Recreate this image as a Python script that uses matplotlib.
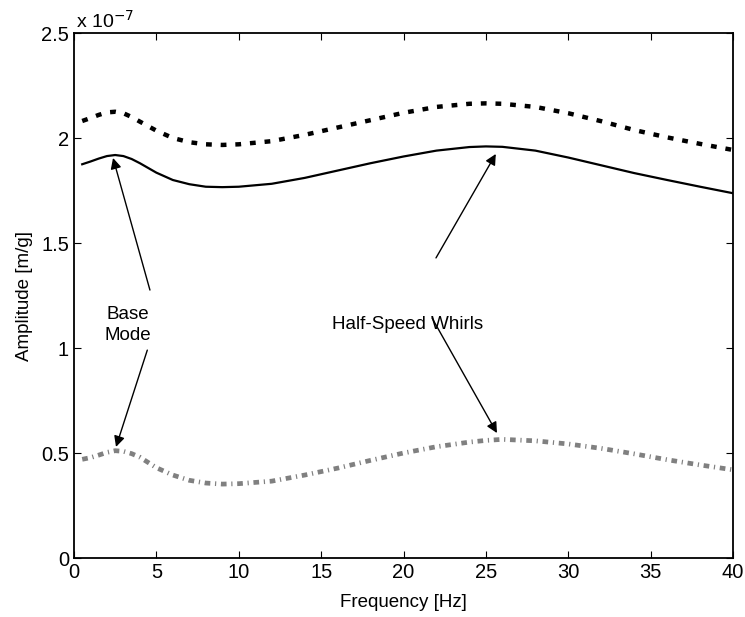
import matplotlib.pyplot as plt
from matplotlib.ticker import FormatStrFormatter

plt.rcParams['font.family'] = ['Liberation Sans', 'DejaVu Sans']

# Frequency response, amplitudes in units of 1e-7 m/g
freq = [0.5, 1, 1.5, 2, 2.5, 3, 3.5, 4, 5, 6, 7, 8, 9, 10, 12, 14, 16, 18,
        20, 22, 24, 25, 26, 28, 30, 32, 34, 36, 38, 40]

amp_solid = [1.875, 1.888, 1.902, 1.914, 1.919, 1.914, 1.900, 1.880, 1.835,
             1.800, 1.780, 1.768, 1.766, 1.768, 1.782, 1.810, 1.845, 1.880,
             1.912, 1.940, 1.957, 1.960, 1.958, 1.940, 1.907, 1.870, 1.833,
             1.800, 1.768, 1.737]

amp_dashed = [2.081, 2.095, 2.110, 2.122, 2.125, 2.118, 2.100, 2.078, 2.035,
              2.000, 1.980, 1.970, 1.967, 1.970, 1.985, 2.015, 2.050, 2.085,
              2.120, 2.148, 2.163, 2.165, 2.163, 2.148, 2.118, 2.080, 2.038,
              2.003, 1.972, 1.943]

amp_gray = [0.470, 0.478, 0.490, 0.503, 0.511, 0.508, 0.497, 0.480, 0.430,
            0.395, 0.370, 0.357, 0.352, 0.354, 0.366, 0.395, 0.428, 0.465,
            0.500, 0.530, 0.552, 0.560, 0.565, 0.558, 0.543, 0.522, 0.496,
            0.468, 0.443, 0.420]

xticks = [0, 5, 10, 15, 20, 25, 30, 35, 40]
yticks = [0, 0.5, 1, 1.5, 2, 2.5]

fig = plt.figure(figsize=(7.45, 6.17), dpi=100)
ax = fig.add_axes([0.0993, 0.0956, 0.8847, 0.8509])

ax.plot(freq, amp_dashed, color='black', linewidth=3.2,
        linestyle=(0, (1.3, 2.0)), dash_capstyle='butt')
ax.plot(freq, amp_solid, color='black', linewidth=1.6)
ax.plot(freq, amp_gray, color='#808080', linewidth=3.4,
        linestyle=(0, (1.2, 1.0, 0.25, 1.0)), dash_capstyle='butt')

arrow = dict(arrowstyle='-|>', color='black', linewidth=1.0,
             mutation_scale=16, shrinkA=0, shrinkB=0)

ax.text(3.28, 1.11, 'Base\nMode', ha='center', va='center',
        fontsize=13.5, linespacing=1.35)
ax.annotate('', xy=(2.37, 1.905), xytext=(4.61, 1.276), arrowprops=arrow)
ax.annotate('', xy=(2.55, 0.529), xytext=(4.45, 0.99), arrowprops=arrow)

ax.text(20.27, 1.11, 'Half-Speed Whirls', ha='center', va='center',
        fontsize=13.5)
ax.annotate('', xy=(25.6, 1.924), xytext=(21.97, 1.429), arrowprops=arrow)
ax.annotate('', xy=(25.67, 0.595), xytext=(21.73, 1.143), arrowprops=arrow)

ax.set_xlim(0, 40)
ax.set_ylim(0, 2.5)
ax.set_xticks(xticks)
ax.set_yticks(yticks)
ax.yaxis.set_major_formatter(FormatStrFormatter('%g'))
ax.tick_params(direction='in', top=True, right=True, length=5,
               width=0.8, labelsize=14.5)
for spine in ax.spines.values():
    spine.set_linewidth(1.3)

ax.set_xlabel('Frequency [Hz]', fontsize=13.5, labelpad=9)
ax.set_ylabel('Amplitude [m/g]', fontsize=13.5, labelpad=6)
ax.text(0.003, 1.003, 'x 10$^{-7}$', transform=ax.transAxes,
        ha='left', va='bottom', fontsize=14)

fig.savefig('out.png', dpi=100)
